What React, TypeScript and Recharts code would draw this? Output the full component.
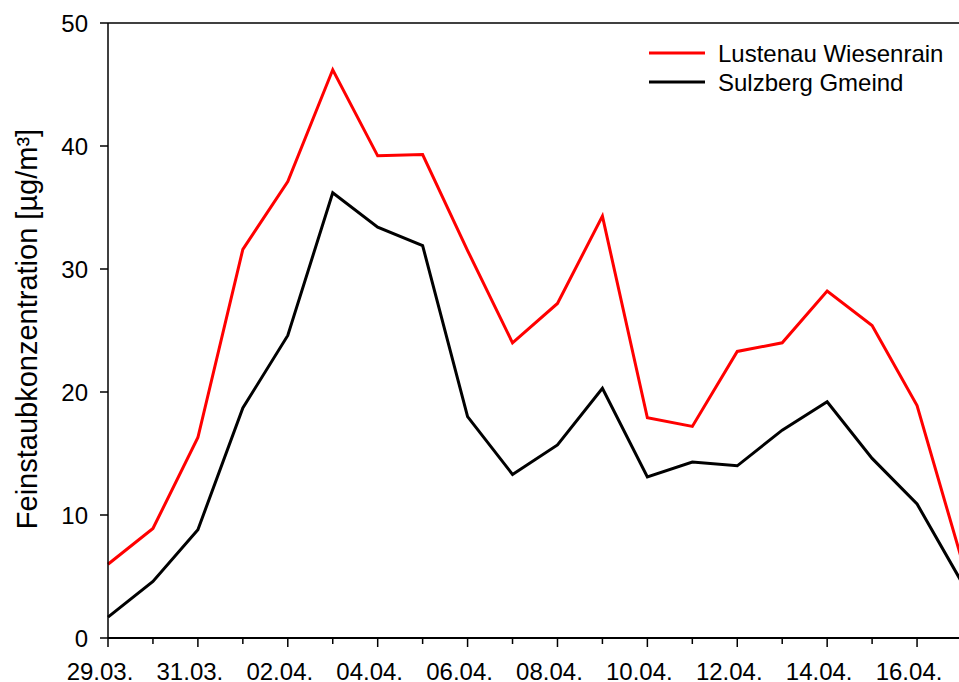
import React from 'react';
import { LineChart, Line, XAxis, YAxis, ReferenceLine, Customized } from 'recharts';

const dates = ['29.03.', '30.03.', '31.03.', '01.04.', '02.04.', '03.04.', '04.04.', '05.04.', '06.04.', '07.04.', '08.04.', '09.04.', '10.04.', '11.04.', '12.04.', '13.04.', '14.04.', '15.04.', '16.04.', '17.04.'];
const lustenau = [6.0, 8.9, 16.3, 31.6, 37.1, 46.2, 39.2, 39.3, 31.5, 24.0, 27.2, 34.3, 17.9, 17.2, 23.3, 24.0, 28.2, 25.4, 18.9, 6.3];
const sulzberg = [1.7, 4.6, 8.8, 18.7, 24.6, 36.2, 33.4, 31.9, 18.0, 13.3, 15.7, 20.3, 13.1, 14.3, 14.0, 16.9, 19.2, 14.6, 10.9, 4.5];
const yTicks = [0, 10, 20, 30, 40, 50];
const seriesNames = ['Lustenau Wiesenrain', 'Sulzberg Gmeind'];
const seriesColors = ['#ff0000', '#000000'];
const yLabel = 'Feinstaubkonzentration [µg/m³]';

const data = dates.map((d, i) => ({ date: d, lustenau: lustenau[i], sulzberg: sulzberg[i] }));

const FONT = '"Liberation Sans", Arial, Helvetica, sans-serif';
const FS = 24;

const XTick = (props: any) => {
  const { x, y, index, payload } = props;
  const major = index % 2 === 0;
  return (
    <g>
      <line x1={x} x2={x} y1={y} y2={y + (major ? 9 : 6)} stroke="#000" strokeWidth={1.5} />
      {major && (
        <text x={x - 8} y={y + 42} textAnchor="middle" fontSize={FS} fontFamily={FONT} fill="#000">
          {payload.value}
        </text>
      )}
    </g>
  );
};

const LegendSvg = () => (
  <g>
    {seriesNames.map((n, i) => (
      <g key={n}>
        <line x1={649} x2={705} y1={53 + i * 29} y2={53 + i * 29} stroke={seriesColors[i]} strokeWidth={3} />
        <text x={718} y={53 + i * 29} dy="0.355em" fontSize={FS} fontFamily={FONT} fill="#000">
          {n}
        </text>
      </g>
    ))}
  </g>
);

const YLabel = () => (
  <text
    x={36.5}
    y={329}
    transform="rotate(-90 36.5 329)"
    textAnchor="middle"
    fontSize={29}
    fontFamily={FONT}
    fill="#000"
  >
    {yLabel}
  </text>
);

export default function App() {
  return (
    <div style={{ position: 'absolute', left: 0, top: 0, width: 959, height: 682, overflow: 'hidden', background: '#fff' }}>
      <LineChart width={980} height={682} data={data} margin={{ top: 23, right: 18, bottom: 0, left: 0 }}>
        <XAxis
          dataKey="date"
          interval={0}
          tickSize={0}
          tickMargin={0}
          tick={<XTick />}
          axisLine={{ stroke: '#000', strokeWidth: 2 }}
          tickLine={false}
          height={44}
        />
        <YAxis
          domain={[0, 50]}
          ticks={yTicks}
          width={108}
          tickSize={8}
          tickMargin={12}
          axisLine={{ stroke: '#000', strokeWidth: 1.5 }}
          tickLine={{ stroke: '#000', strokeWidth: 1.5 }}
          tick={{ fontSize: FS, fontFamily: FONT, fill: '#000' }}
        />
        <ReferenceLine y={50} stroke="#000" strokeWidth={1.5} />
        <Line type="linear" dataKey="lustenau" name={seriesNames[0]} stroke={seriesColors[0]} strokeWidth={3} dot={false} isAnimationActive={false} />
        <Line type="linear" dataKey="sulzberg" name={seriesNames[1]} stroke={seriesColors[1]} strokeWidth={3} dot={false} isAnimationActive={false} />
        <Customized component={LegendSvg} />
        <Customized component={YLabel} />
      </LineChart>
    </div>
  );
}
